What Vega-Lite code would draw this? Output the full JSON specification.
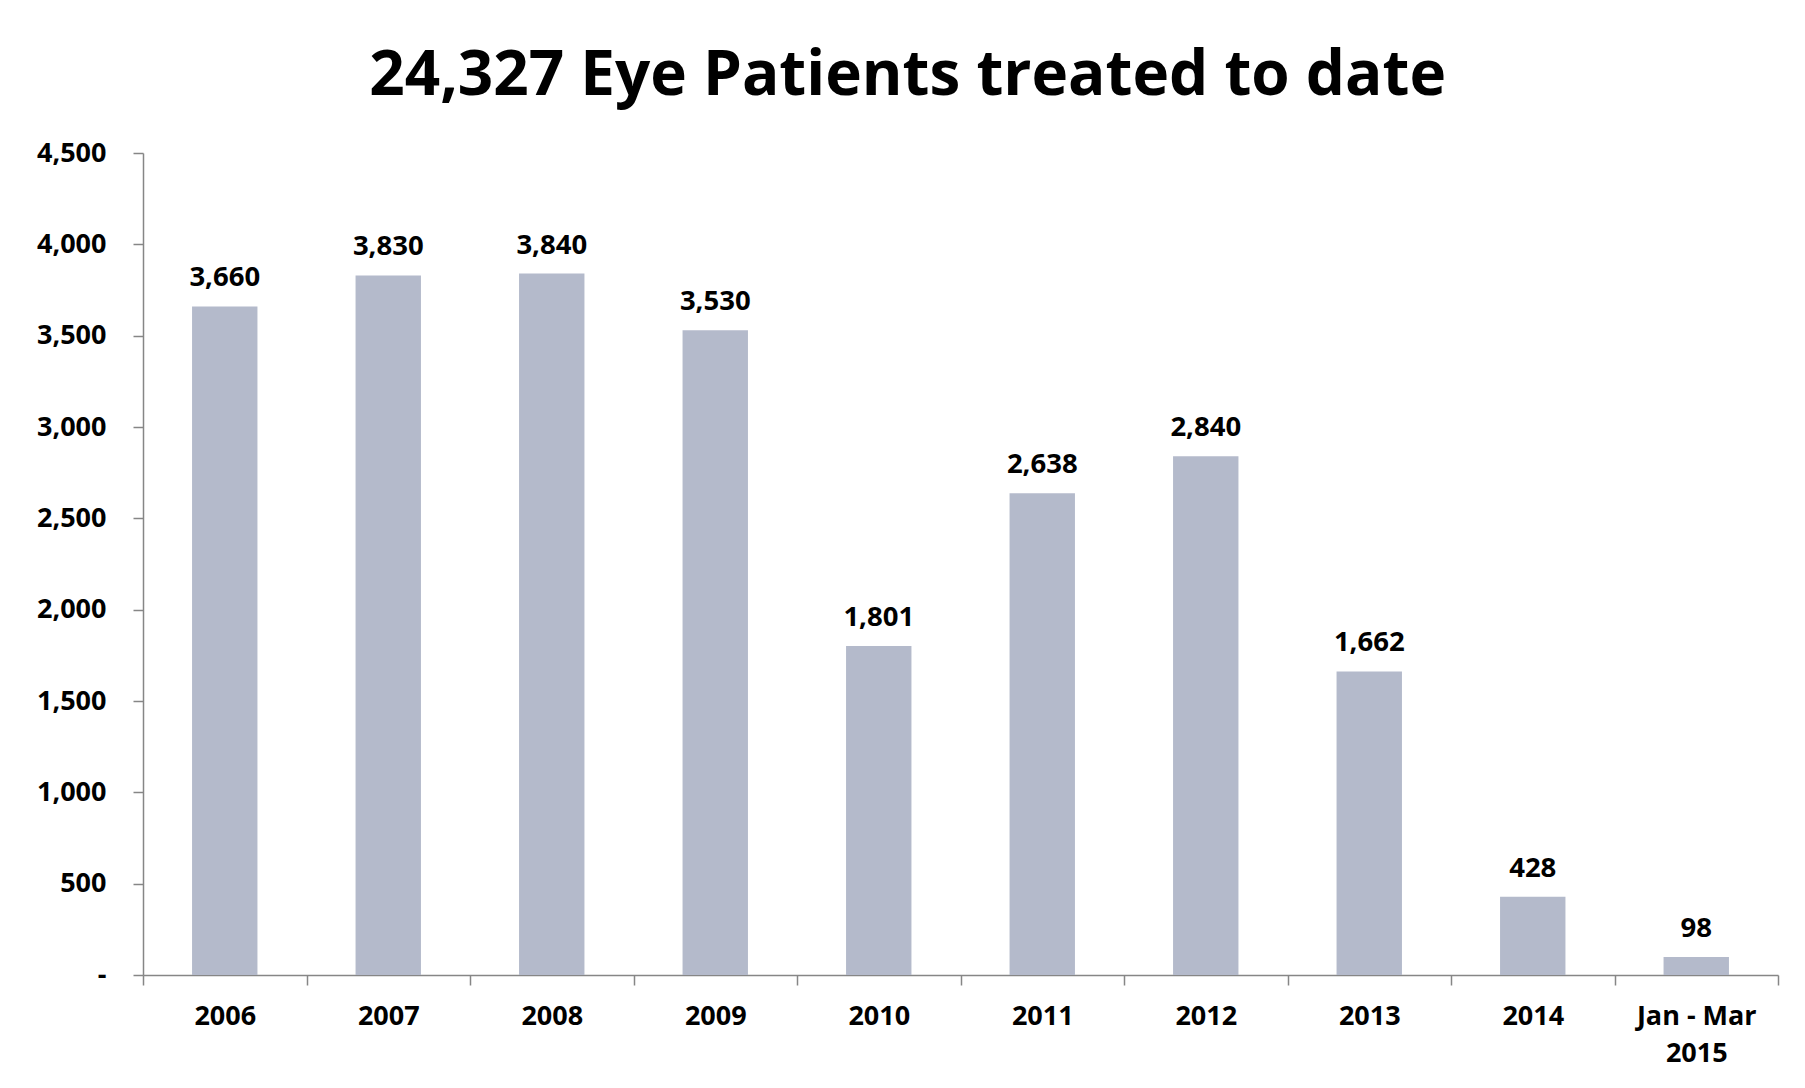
{
  "$schema": "https://vega.github.io/schema/vega-lite/v6.json",
  "width": 1635,
  "height": 822,
  "autosize": {"type": "none"},
  "padding": {"left": 143, "top": 153, "right": 27, "bottom": 113},
  "background": "white",
  "config": {"view": {"stroke": null}, "font": "Open Sans"},
  "title": {
    "text": "24,327 Eye Patients treated to date",
    "font": "Open Sans",
    "fontSize": 62,
    "fontWeight": "bold",
    "color": "black",
    "anchor": "middle",
    "frame": "bounds",
    "offset": 31
  },
  "data": {
    "values": [
      {"period": "2006", "patients": 3660},
      {"period": "2007", "patients": 3830},
      {"period": "2008", "patients": 3840},
      {"period": "2009", "patients": 3530},
      {"period": "2010", "patients": 1801},
      {"period": "2011", "patients": 2638},
      {"period": "2012", "patients": 2840},
      {"period": "2013", "patients": 1662},
      {"period": "2014", "patients": 428},
      {"period": "Jan - Mar 2015", "patients": 98}
    ]
  },
  "encoding": {
    "x": {
      "field": "period",
      "type": "nominal",
      "sort": null,
      "scale": {"paddingInner": 0, "paddingOuter": 0},
      "axis": {
        "title": null,
        "labelAngle": 0,
        "tickBand": "extent",
        "domainColor": "#868686",
        "domainWidth": 1.5,
        "tickColor": "#868686",
        "tickWidth": 1.5,
        "tickSize": 10,
        "labelPadding": 18,
        "labelFont": "Open Sans",
        "labelFontSize": 27,
        "labelFontWeight": "bold",
        "labelColor": "black",
        "labelLineHeight": 37,
        "labelExpr": "datum.value == 'Jan - Mar 2015' ? ['Jan - Mar', '2015'] : datum.label"
      }
    },
    "y": {
      "field": "patients",
      "type": "quantitative",
      "scale": {"domain": [0, 4500], "nice": false},
      "axis": {
        "title": null,
        "grid": false,
        "values": [0, 500, 1000, 1500, 2000, 2500, 3000, 3500, 4000, 4500],
        "format": ",d",
        "labelExpr": "datum.value == 0 ? '-' : datum.label",
        "domainColor": "#868686",
        "domainWidth": 1.5,
        "tickColor": "#868686",
        "tickWidth": 1.5,
        "tickSize": 10,
        "labelPadding": 27,
        "labelFont": "Open Sans",
        "labelFontSize": 27,
        "labelFontWeight": "bold",
        "labelColor": "black"
      }
    }
  },
  "layer": [
    {
      "mark": {"type": "bar", "color": "#b4bacb", "width": {"band": 0.4}}
    },
    {
      "mark": {
        "type": "text",
        "font": "Open Sans",
        "fontSize": 27.5,
        "fontWeight": "bold",
        "color": "black",
        "baseline": "alphabetic",
        "dy": -20
      },
      "encoding": {
        "text": {"field": "patients", "type": "quantitative", "format": ",d"}
      }
    }
  ]
}
